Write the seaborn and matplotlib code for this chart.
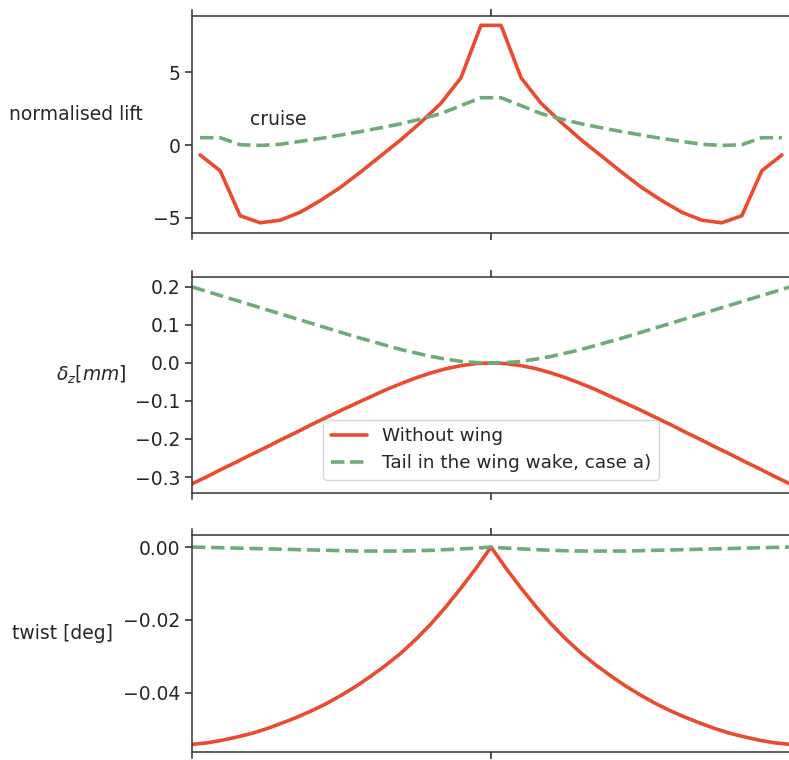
import numpy as np
import pandas as pd
import matplotlib
matplotlib.use("Agg")
import matplotlib.pyplot as plt
import seaborn as sns

# ---------------- data ----------------
series_names = ["Without wing", "Tail in the wing wake, case a)"]

# panel 1: normalised lift (30 spanwise stations)
x_lift = np.linspace(-0.973, 0.973, 30)
lift_without = [-0.68, -1.76, -4.85, -5.33, -5.15, -4.6, -3.8, -2.9, -1.85, -0.75,
                0.35, 1.55, 2.85, 4.6, 8.2,
                8.2, 4.6, 2.85, 1.55, 0.35, -0.75, -1.85, -2.9, -3.8, -4.6,
                -5.15, -5.33, -4.85, -1.76, -0.68]
lift_wake = [0.5, 0.5, 0.02, -0.03, 0.05, 0.25, 0.45, 0.68, 0.92, 1.18,
             1.45, 1.78, 2.15, 2.7, 3.24,
             3.24, 2.7, 2.15, 1.78, 1.45, 1.18, 0.92, 0.68, 0.45, 0.25,
             0.05, -0.03, 0.02, 0.5, 0.5]

# panels 2 & 3: nodal quantities (41 nodes)
x_node = np.linspace(-1.0, 1.0, 41)
dz_without = [-0.318, -0.299, -0.279, -0.260, -0.240, -0.221, -0.201, -0.182, -0.162, -0.143,
              -0.124, -0.106, -0.088, -0.070, -0.054, -0.039, -0.026, -0.015, -0.007, -0.0018,
              0.0,
              -0.0018, -0.007, -0.015, -0.026, -0.039, -0.054, -0.070, -0.088, -0.106, -0.124,
              -0.143, -0.162, -0.182, -0.201, -0.221, -0.240, -0.260, -0.279, -0.299, -0.318]
dz_wake = [0.200, 0.188, 0.176, 0.164, 0.152, 0.140, 0.128, 0.116, 0.104, 0.092,
           0.080, 0.068, 0.057, 0.046, 0.035, 0.026, 0.017, 0.010, 0.004, 0.001,
           0.0,
           0.001, 0.004, 0.010, 0.017, 0.026, 0.035, 0.046, 0.057, 0.068, 0.080,
           0.092, 0.104, 0.116, 0.128, 0.140, 0.152, 0.164, 0.176, 0.188, 0.200]
twist_without = [-0.0541, -0.0537, -0.0530, -0.0521, -0.0511, -0.0498, -0.0483, -0.0467, -0.0449, -0.0429,
                 -0.0406, -0.0381, -0.0353, -0.0323, -0.0290, -0.0252, -0.0210, -0.0163, -0.0112, -0.0058,
                 0.0,
                 -0.0058, -0.0112, -0.0163, -0.0210, -0.0252, -0.0290, -0.0323, -0.0353, -0.0381, -0.0406,
                 -0.0429, -0.0449, -0.0467, -0.0483, -0.0498, -0.0511, -0.0521, -0.0530, -0.0537, -0.0541]
twist_wake = [0.0, -0.0001, -0.0002, -0.0003, -0.0004, -0.0005, -0.0006, -0.0007, -0.0008, -0.0009,
              -0.0010, -0.0011, -0.0011, -0.0011, -0.0011, -0.0010, -0.0009, -0.0007, -0.0005, -0.0003,
              0.0,
              -0.0003, -0.0005, -0.0007, -0.0009, -0.0010, -0.0011, -0.0011, -0.0011, -0.0011, -0.0010,
              -0.0009, -0.0008, -0.0007, -0.0006, -0.0005, -0.0004, -0.0003, -0.0002, -0.0001, 0.0]

ylabels = ["normalised lift", r"$\delta_z [mm]$", "twist [deg]"]
yticks = [[-5, 0, 5], [-0.3, -0.2, -0.1, 0.0, 0.1, 0.2], [-0.04, -0.02, 0.0]]
annotation = "cruise"

# ---------------- style ----------------
sns.set_theme(style="ticks")
plt.rcParams.update({
    "font.family": ["DejaVu Sans"],
    "font.size": 13.5,
    "axes.labelsize": 13.5,
    "xtick.labelsize": 13.5,
    "ytick.labelsize": 13.5,
    "legend.fontsize": 13.2,
    "axes.linewidth": 1.1,
    "xtick.major.size": 5,
    "ytick.major.size": 5,
    "xtick.major.width": 1.1,
    "ytick.major.width": 1.1,
    "axes.edgecolor": "#333333",
})

palette = {series_names[0]: "#eb4a2e", series_names[1]: "#6faa7a"}
dashes = {series_names[0]: "", series_names[1]: (3.7, 1.6)}

fig = plt.figure(figsize=(7.89, 7.60), dpi=100)
H = 760.0
W = 789.0
left = 192 / W
width = 598 / W
panels_px = [(16, 233), (277, 493), (535, 752)]
axes = []
for top, bot in panels_px:
    axes.append(fig.add_axes([left, (H - bot) / H, width, (bot - top) / H]))


def make_df(x, a, b):
    return pd.DataFrame({
        "x": np.concatenate([x, x]),
        "val": np.concatenate([a, b]),
        "series": [series_names[0]] * len(x) + [series_names[1]] * len(x),
    })


dfs = [make_df(x_lift, lift_without, lift_wake),
       make_df(x_node, dz_without, dz_wake),
       make_df(x_node, twist_without, twist_wake)]
ylims = [(-6.03, 8.84), (-0.342, 0.226), (-0.0562, 0.0033)]
label_x = [-0.082, -0.109, -0.1326]

for i, ax in enumerate(axes):
    sns.lineplot(data=dfs[i], x="x", y="val", hue="series", style="series",
                 palette=palette, dashes=dashes, estimator=None, linewidth=2.6,
                 ax=ax, legend=(i == 1))
    ax.set_xlim(-1.0, 1.0)
    ax.set_ylim(*ylims[i])
    ax.set_xticks([0])
    ax.set_yticks(yticks[i])
    ax.tick_params(axis="x", top=True, bottom=True, labelbottom=False, labeltop=False)
    ax.set_xlabel("")
    ax.set_ylabel(ylabels[i], rotation=0, ha="right", va="center")
    ax.yaxis.set_label_coords(label_x[i], 0.545)
    ax.spines["right"].set_visible(False)
    lo, hi = ax.get_ylim()
    pad = (hi - lo) * 6 / 217
    ax.spines["left"].set_bounds(lo - pad, hi + pad)

axes[0].text(-0.805, 1.78, annotation, ha="left", va="center", fontsize=13.5, color=".15")

leg = axes[1].legend(loc="lower center", bbox_to_anchor=(0.5, 0.02), frameon=True)
leg.set_title(None)
for h in leg.get_lines():
    h.set_linewidth(2.6)

fig.savefig("out.png", dpi=100)
